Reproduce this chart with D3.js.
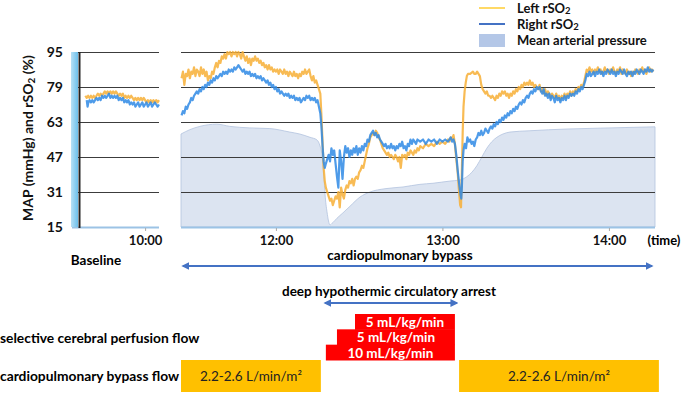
<!DOCTYPE html>
<html>
<head>
<meta charset="utf-8">
<script src="https://cdn.jsdelivr.net/npm/d3@7"></script>
<style>
  body { margin: 0; background: #fff; }
  svg { display: block; font-family: Lato, "Open Sans", sans-serif; }
</style>
</head>
<body>
<div id="chart"></div>
<script>
// times are minutes after midnight
var yTicks = [15, 31, 47, 63, 79, 95];
var baseTicks = [600];
var cpbTicks = [720, 780, 840];

// baseline (before bypass)
var baseLeftSO2 = [[578.5,75],[579,74],[579.5,75],[580,74],[580.5,75],[581,74],[581.5,75],[582,74],[582.5,75],[583,76],[583.5,75],[584,76],[584.5,75],[585,76],[585.5,77],[586,76],[586.5,77],[587,76],[587.5,77],[588,76],[588.5,77],[589,76],[589.5,77],[590,76],[590.5,75],[591,76],[591.5,75],[592,76],[592.5,74],[593,75],[593.5,74],[594,75],[594.5,74],[595,75],[595.5,74],[596,73],[596.5,74],[597,73],[597.5,74],[598,73],[598.5,74],[599,73],[599.5,74],[600,73],[600.5,72],[601,73],[601.5,72],[602,73],[602.5,72],[603,73],[603.5,72],[604,73],[604.5,72],[605,73]];
var baseRightSO2 = [[579,73],[579.3,70],[579.6,72],[580,73],[580.5,72],[581,73],[581.5,72],[582,73],[582.5,74],[583,73],[583.5,74],[584,73],[584.5,75],[585,74],[585.5,75],[586,74],[586.5,75],[587,76],[587.5,74],[588,75],[588.5,74],[589,75],[589.5,74],[590,75],[590.5,73],[591,74],[591.5,73],[592,74],[592.5,72],[593,73],[593.5,72],[594,73],[594.5,71],[595,72],[595.5,71],[596,72],[596.5,70],[597,71],[597.5,72],[598,70],[598.5,71],[599,72],[599.5,70],[600,71],[600.5,72],[601,70],[601.5,71],[602,72],[602.5,70],[603,71],[603.5,72],[604,71],[604.5,70],[605,71]];

// during cardiopulmonary bypass
var cpbLeftSO2 = [[686,83],[686.5,86],[687,80],[687.5,85],[688,84],[688.5,87],[689,83],[689.5,86],[690,85],[690.5,88],[691,84],[691.5,87],[692,86],[692.5,84],[693,88],[693.5,85],[694,87],[694.5,84],[695,86],[695.5,82],[696,84],[696.5,83],[697,86],[697.5,85],[698,88],[698.5,90],[699,88],[699.5,91],[700,90],[700.5,93],[701,92],[701.5,94],[702,92],[702.5,95],[703,94],[703.5,95],[704,93],[704.5,95],[705,94],[705.5,95],[706,93],[706.5,95],[707,94],[707.5,92],[708,95],[708.5,93],[709,91],[709.5,93],[710,90],[710.5,92],[711,89],[711.5,92],[712,91],[712.5,93],[713,91],[713.5,92],[714,90],[714.5,91],[715,89],[715.5,90],[716,88],[716.5,89],[717,87],[717.5,89],[718,87],[718.5,88],[719,86],[719.5,87],[720,86],[720.5,87],[721,85],[721.5,87],[722,86],[722.5,85],[723,87],[723.5,85],[724,86],[724.5,84],[725,86],[725.5,85],[726,84],[726.5,86],[727,84],[727.5,85],[728,83],[728.5,85],[729,84],[729.5,86],[730,85],[730.5,87],[731,85],[731.5,86],[732,87],[732.5,84],[733,82],[733.5,84],[734,81],[734.5,82],[735,80],[735.5,78],[736,76],[736.4,66],[736.8,54],[737.2,42],[737.6,36],[738,33],[738.5,31],[739,29],[739.5,27],[740,28],[740.5,25],[741,27],[741.5,29],[742,28],[742.5,31],[743,24],[743.5,33],[744,30],[744.5,28],[745,32],[745.5,34],[746,33],[746.5,36],[747,35],[747.5,37],[748,34],[748.5,37],[749,38],[749.5,37],[750,40],[750.5,41],[751,43],[751.5,42],[752,45],[752.5,48],[753,51],[753.5,53],[754,56],[754.5,57],[755,58],[755.5,57],[756,59],[756.5,58],[757,56],[757.5,55],[758,53],[758.5,51],[759,50],[759.5,49],[760,48],[760.5,49],[761,47],[761.5,48],[762,47],[762.5,46],[763,48],[763.5,47],[764,45],[764.5,47],[765,42],[765.5,48],[766,47],[766.5,48],[767,46],[767.5,49],[768,48],[768.5,50],[769,49],[769.5,48],[770,50],[770.5,49],[771,51],[771.5,50],[772,52],[773,51],[774,53],[775,52],[776,53],[777,52],[778,54],[779,53],[780,54],[781,53],[782,55],[782.5,54],[783,56],[783.5,55],[784,57],[784.5,53],[785,46],[785.5,40],[786,31],[786.4,25],[786.7,24],[787,40],[787.3,58],[787.6,70],[788,77],[788.4,81],[788.8,84],[789.2,85],[790,85],[791,86],[791.5,85],[792,85],[792.5,86],[793,85],[793.5,84],[794,80],[794.5,78],[795,77],[795.5,76],[796,77],[796.5,75],[797,75],[797.5,74],[798,75],[798.5,74],[799,73],[799.5,75],[800,74],[800.5,76],[801,75],[801.5,77],[802,76],[802.5,77],[803,75],[803.5,76],[804,74],[804.5,76],[805,75],[805.5,77],[806,76],[806.5,78],[807,77],[807.5,79],[808,78],[808.5,80],[809,79],[809.5,81],[810,80],[810.5,81],[811,80],[811.5,82],[812,80],[812.5,81],[813,79],[813.5,80],[814,79],[814.5,78],[815,80],[815.5,77],[816,78],[816.5,76],[817,78],[817.5,75],[818,77],[818.5,76],[819,74],[819.5,76],[820,75],[820.5,74],[821,76],[821.5,74],[822,75],[822.5,73],[823,75],[823.5,74],[824,76],[824.5,74],[825,76],[825.5,75],[826,77],[826.5,75],[827,77],[827.5,76],[828,78],[828.5,77],[829,79],[829.5,78],[830,80],[830.5,79],[831,81],[831.5,84],[832,87],[832.5,86],[833,88],[833.5,86],[834,87],[834.5,85],[835,87],[835.5,86],[836,88],[836.5,86],[837,87],[837.5,85],[838,86],[838.5,88],[839,86],[839.5,87],[840,85],[840.5,87],[841,86],[841.5,88],[842,86],[842.5,85],[843,87],[843.5,86],[844,88],[844.5,85],[845,87],[845.5,86],[846,85],[846.5,87],[847,85],[847.5,86],[848,84],[848.5,86],[849,85],[849.5,87],[850,86],[850.5,85],[851,87],[851.5,86],[852,88],[852.5,86],[853,87],[853.5,85],[854,87],[854.5,88],[855,86],[855.5,87],[856,86]];
var cpbRightSO2 = [[686,66],[686.5,68],[687,67],[687.5,70],[688,69],[688.5,71],[689,72],[689.5,74],[690,73],[690.5,75],[691,76],[691.5,77],[692,76],[692.5,78],[693,77],[693.5,79],[694,78],[694.5,80],[695,79],[695.5,81],[696,80],[696.5,82],[697,81],[697.5,83],[698,82],[698.5,84],[699,83],[699.5,84],[700,85],[700.5,84],[701,86],[701.5,85],[702,86],[702.5,85],[703,87],[703.5,86],[704,87],[704.5,86],[705,88],[705.5,87],[706,88],[706.5,89],[707,88],[707.5,87],[708,86],[708.5,87],[709,85],[709.5,86],[710,85],[710.5,86],[711,84],[711.5,85],[712,84],[712.5,85],[713,83],[713.5,84],[714,83],[714.5,84],[715,82],[715.5,83],[716,82],[716.5,81],[717,82],[717.5,80],[718,81],[718.5,79],[719,80],[719.5,78],[720,79],[720.5,77],[721,78],[721.5,76],[722,77],[722.5,76],[723,75],[723.5,76],[724,75],[724.5,76],[725,74],[725.5,75],[726,74],[726.5,75],[727,73],[727.5,74],[728,73],[728.5,74],[729,72],[729.5,73],[730,74],[730.5,73],[731,75],[731.5,74],[732,75],[732.5,73],[733,74],[733.5,73],[734,74],[734.5,72],[735,73],[735.5,70],[736,67],[736.4,61],[736.8,52],[737.2,45],[737.6,42],[738,44],[738.5,46],[739,48],[739.5,45],[740,51],[740.5,48],[741,50],[741.5,44],[742,38],[742.5,33],[743,50],[743.5,45],[744,37],[744.5,47],[745,52],[745.5,49],[746,51],[746.5,47],[747,50],[747.5,48],[748,51],[748.5,49],[749,52],[749.5,48],[750,51],[750.5,49],[751,52],[751.5,50],[752,53],[752.5,52],[753,55],[753.5,54],[754,57],[754.5,58],[755,59],[755.5,57],[756,58],[756.5,56],[757,57],[757.5,55],[758,54],[758.5,53],[759,52],[759.5,53],[760,51],[760.5,52],[761,51],[761.5,53],[762,51],[762.5,52],[763,50],[763.5,52],[764,51],[764.5,53],[765,52],[765.5,54],[766,51],[766.5,52],[767,50],[767.5,53],[768,52],[768.5,55],[769,53],[769.5,55],[770,54],[770.5,53],[771,55],[772,54],[773,55],[774,53],[775,55],[776,54],[777,55],[778,53],[779,55],[780,54],[781,55],[782,54],[783,56],[783.5,54],[784,55],[784.5,53],[785,48],[785.5,41],[786,35],[786.5,30],[786.8,28],[787,33],[787.3,45],[787.6,50],[788,53],[788.5,51],[789,56],[789.5,54],[790,55],[790.5,53],[791,54],[791.5,52],[792,55],[792.5,56],[793,58],[793.5,57],[794,59],[794.5,57],[795,58],[795.5,60],[796,59],[796.5,58],[797,60],[797.5,61],[798,60],[798.5,62],[799,61],[799.5,63],[800,62],[800.5,64],[801,63],[801.5,65],[802,64],[802.5,66],[803,65],[803.5,67],[804,66],[804.5,68],[805,67],[805.5,69],[806,68],[806.5,70],[807,69],[807.5,71],[808,72],[808.5,71],[809,73],[809.5,72],[810,74],[810.5,75],[811,74],[811.5,76],[812,77],[812.5,76],[813,78],[813.5,77],[814,79],[814.5,78],[815,79],[815.5,77],[816,76],[816.5,78],[817,75],[817.5,76],[818,74],[818.5,76],[819,73],[819.5,75],[820,74],[820.5,72],[821,75],[821.5,73],[822,74],[822.5,72],[823,74],[823.5,73],[824,75],[824.5,73],[825,75],[825.5,74],[826,76],[826.5,75],[827,76],[827.5,75],[828,77],[828.5,76],[829,78],[829.5,77],[830,79],[830.5,78],[831,80],[831.5,82],[832,85],[832.5,84],[833,86],[833.5,84],[834,85],[834.5,86],[835,84],[835.5,86],[836,85],[836.5,87],[837,85],[837.5,86],[838,84],[838.5,86],[839,85],[839.5,87],[840,86],[840.5,85],[841,87],[841.5,85],[842,86],[842.5,84],[843,86],[843.5,85],[844,87],[844.5,86],[845,85],[845.5,87],[846,85],[846.5,84],[847,86],[847.5,85],[848,86],[848.5,84],[849,86],[849.5,85],[850,87],[850.5,86],[851,85],[851.5,87],[852,86],[852.5,85],[853,87],[853.5,86],[854,88],[854.5,86],[855,87],[855.5,86],[856,87]];
var cpbMAP = [[685.8,57.5],[689,59.5],[692.6,61],[698.7,62],[703.4,61],[710.6,60.3],[717.8,60],[725,58.4],[728.6,57.5],[732.3,56],[734.8,54.8],[735.9,52],[736.6,48],[737.3,38],[737.7,30],[738.4,22],[739.5,16],[740.5,17],[742,19],[744.1,21.4],[746.7,24.5],[750.3,28.7],[753.9,31],[759.3,32.5],[765.8,33.3],[771.9,34.5],[776.6,35],[782.7,36],[786.3,36.5],[788.8,38],[790.6,40],[792.4,43],[794.2,47],[796,51],[797.8,54],[799.6,56],[801.8,57.5],[804.3,58.4],[811.5,59],[824.9,59.8],[836.8,60.2],[856.6,60.8]];

// annotations below the chart
var cpbArrow = [686.5, 855.5];
var dhcaArrow = [737.7, 785.2];
var scpLabels = ["5 mL/kg/min", "5 mL/kg/min", "10 mL/kg/min"];
var scpStart = [748.5, 742, 738];
var scpEnd = [784.5, 784.5, 784.5];
var flowLabels = ["2.2-2.6 L/min/m\u00b2", "2.2-2.6 L/min/m\u00b2"];
var flowStart = [685.8, 786];
var flowEnd = [736.2, 858];

function clock(m) { return Math.floor(m / 60) + ":" + d3.format("02")(m % 60); }

var svg = d3.select("#chart").append("svg").attr("width", 685).attr("height", 395);

var y = d3.scaleLinear().domain([15, 95]).range([227, 52]);
var xBase = d3.scaleLinear().domain([573.7, 605]).range([72, 159]);
var xCpb = d3.scaleLinear().domain([685.8, 856.6]).range([181, 655]);

var orange = "#F7AF36", blue = "#2F8AE5";

// MAP area
svg.append("path").datum(cpbMAP)
  .attr("d", d3.area().x(function(d){ return xCpb(d[0]); }).y0(y(15)).y1(function(d){ return y(d[1]); }).curve(d3.curveMonotoneX))
  .attr("fill", "#dce4f1").attr("stroke", "#b3c3de").attr("stroke-width", 0.8);

// gridlines
function grid(x0, x1) {
  var g = svg.append("g").attr("transform", "translate(" + x0 + ",0)")
    .call(d3.axisLeft(y).tickValues(yTicks).tickSize(-(x1 - x0)).tickFormat(""));
  g.select(".domain").remove();
  g.selectAll("line").attr("stroke", "#3c3c3c").attr("stroke-width", 1.2);
  g.selectAll(".tick").filter(function(d){ return d == 15; }).select("line")
    .attr("stroke", "#9cc3e5").attr("stroke-width", 2);
}
grid(72, 159);
grid(181, 655);

// left bar of baseline panel
var grad = svg.append("defs").append("linearGradient").attr("id", "strip");
grad.append("stop").attr("offset", "0%").attr("stop-color", "#b7e0f5");
grad.append("stop").attr("offset", "100%").attr("stop-color", "#6cc0ec");
svg.append("rect").attr("x", 71).attr("y", 52).attr("width", 7).attr("height", 175).attr("fill", "url(#strip)");
svg.append("line").attr("x1", 79.5).attr("x2", 79.5).attr("y1", 52).attr("y2", 228).attr("stroke", "#222").attr("stroke-width", 2);

// y tick labels
var yAxis = svg.append("g").attr("transform", "translate(63,0)")
  .call(d3.axisLeft(y).tickValues(yTicks).tickSize(0).tickPadding(0));
yAxis.select(".domain").remove();
yAxis.selectAll("text").attr("font-size", 14).attr("font-weight", "bold").attr("fill", "#111").attr("font-family", "Lato, sans-serif");

// y title
var yt = svg.append("text").attr("transform", "translate(33,138) rotate(-90)")
  .attr("text-anchor", "middle").attr("font-size", 14).attr("font-weight", "bold").attr("fill", "#111");
yt.append("tspan").text("MAP (mmHg) and rSO");
yt.append("tspan").attr("font-size", 10).attr("dy", 2).text("2");
yt.append("tspan").attr("dy", -2).text(" (%)");

// rSO2 lines
var lineBase = d3.line().x(function(d){ return xBase(d[0]); }).y(function(d){ return y(d[1]); });
var lineCpb = d3.line().x(function(d){ return xCpb(d[0]); }).y(function(d){ return y(d[1]); });
[[baseLeftSO2, lineBase, orange], [cpbLeftSO2, lineCpb, orange], [baseRightSO2, lineBase, blue], [cpbRightSO2, lineCpb, blue]].forEach(function(s) {
  svg.append("path").datum(s[0]).attr("d", s[1]).attr("fill", "none")
    .attr("stroke", s[2]).attr("stroke-width", 2.2).attr("stroke-opacity", 0.85).attr("stroke-linejoin", "round");
});

// x axes
function xAxis(scale, ticks) {
  var g = svg.append("g").attr("transform", "translate(0,228)")
    .call(d3.axisBottom(scale).tickValues(ticks).tickFormat(clock).tickSize(3).tickPadding(5));
  g.select(".domain").remove();
  g.selectAll("line").attr("stroke", "#aaa");
  g.selectAll("text").attr("font-size", 13).attr("font-weight", "bold").attr("fill", "#111").attr("font-family", "Lato, sans-serif");
}
xAxis(xBase, baseTicks);
xAxis(xCpb, cpbTicks);

svg.append("text").attr("x", 664).attr("y", 245).attr("text-anchor", "middle").attr("font-size", 13).attr("font-weight", "bold").text("(time)");
svg.append("text").attr("x", 96).attr("y", 265).attr("text-anchor", "middle").attr("font-size", 13.5).attr("font-weight", "bold").text("Baseline");

// arrows
var defs = svg.select("defs");
defs.append("marker").attr("id", "arr").attr("viewBox", "0 0 10 10").attr("refX", 8).attr("refY", 5)
  .attr("markerWidth", 4).attr("markerHeight", 4).attr("orient", "auto-start-reverse")
  .append("path").attr("d", "M0,0L10,5L0,10z").attr("fill", "#4472c4");

function arrow(span, yy) {
  svg.append("line").attr("x1", xCpb(span[0])).attr("x2", xCpb(span[1])).attr("y1", yy).attr("y2", yy)
    .attr("stroke", "#4472c4").attr("stroke-width", 2)
    .attr("marker-start", "url(#arr)").attr("marker-end", "url(#arr)");
}
arrow(cpbArrow, 266);
arrow(dhcaArrow, 303);
svg.append("text").attr("x", 400).attr("y", 260).attr("text-anchor", "middle").attr("font-size", 13.5).attr("font-weight", "bold").text("cardiopulmonary bypass");
svg.append("text").attr("x", 389).attr("y", 296).attr("text-anchor", "middle").attr("font-size", 13.5).attr("font-weight", "bold").text("deep hypothermic circulatory arrest");

// selective cerebral perfusion (staircase)
var rowY = d3.scaleBand().domain(d3.range(scpLabels.length)).range([314, 360]);
scpLabels.forEach(function(lab, i) {
  svg.append("rect").attr("x", xCpb(scpStart[i])).attr("y", rowY(i)).attr("width", xCpb(scpEnd[i]) - xCpb(scpStart[i]))
    .attr("height", rowY.bandwidth() + 0.5).attr("fill", "#ff0000");
});
scpLabels.forEach(function(lab, i) {
  svg.append("text").attr("x", (xCpb(scpStart[i]) + xCpb(scpEnd[i])) / 2).attr("y", rowY(i) + rowY.bandwidth() - 2.5)
    .attr("text-anchor", "middle").attr("font-size", 13.5).attr("font-weight", "bold").attr("fill", "#fff").text(lab);
});

// bypass flow boxes
flowLabels.forEach(function(lab, i) {
  svg.append("rect").attr("x", xCpb(flowStart[i])).attr("y", 360).attr("width", xCpb(flowEnd[i]) - xCpb(flowStart[i]))
    .attr("height", 32).attr("fill", "#ffc000");
  svg.append("text").attr("x", (xCpb(flowStart[i]) + xCpb(flowEnd[i])) / 2).attr("y", 381)
    .attr("text-anchor", "middle").attr("font-size", 13.5).attr("fill", "#222").text(lab);
});

svg.append("text").attr("x", 0).attr("y", 343).attr("font-size", 13.8).attr("font-weight", "bold").text("selective cerebral perfusion flow");
svg.append("text").attr("x", 0).attr("y", 381).attr("font-size", 13.8).attr("font-weight", "bold").text("cardiopulmonary bypass flow");

// legend
var leg = svg.append("g").attr("font-size", 13).attr("font-weight", "bold").attr("fill", "#111");
leg.append("line").attr("x1", 479).attr("x2", 505).attr("y1", 8).attr("y2", 8).attr("stroke", "#ffd966").attr("stroke-width", 2);
leg.append("line").attr("x1", 479).attr("x2", 505).attr("y1", 24).attr("y2", 24).attr("stroke", "#4472c4").attr("stroke-width", 2);
leg.append("rect").attr("x", 479).attr("y", 34).attr("width", 26).attr("height", 13).attr("fill", "#b4c7e7");
[["Left rSO", 13], ["Right rSO", 29]].forEach(function(l) {
  var t = leg.append("text").attr("x", 517).attr("y", l[1]);
  t.append("tspan").text(l[0]);
  t.append("tspan").attr("font-size", 9.5).attr("dy", 1).text("2");
});
leg.append("text").attr("x", 517).attr("y", 45).text("Mean arterial pressure");
</script>
</body>
</html>
